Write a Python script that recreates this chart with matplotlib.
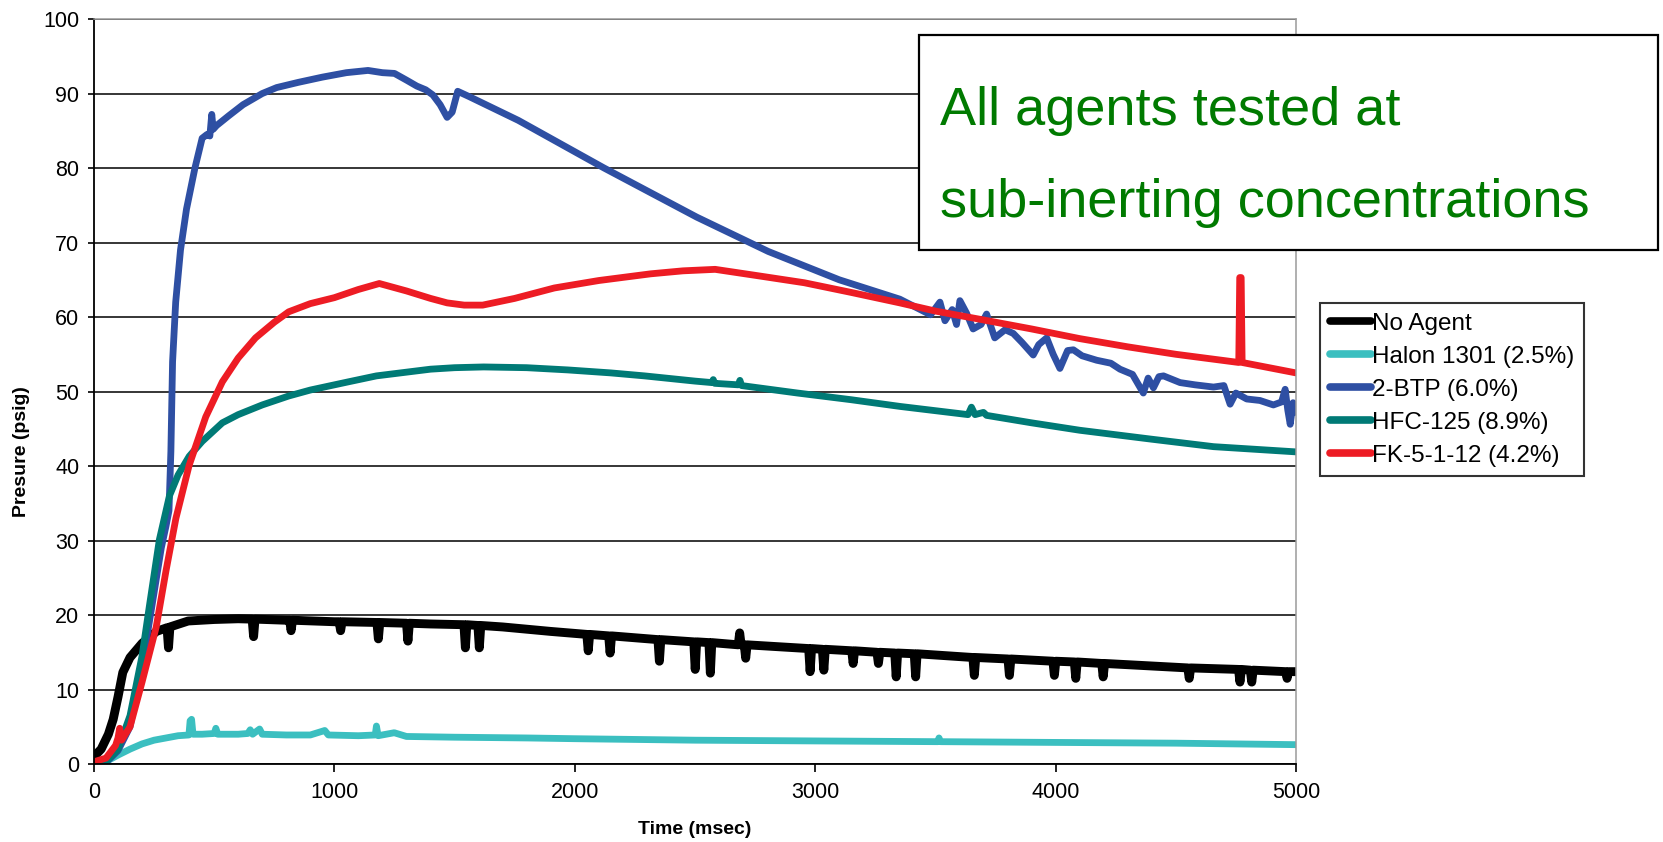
import matplotlib
matplotlib.use("Agg")
import matplotlib.pyplot as plt
from matplotlib.patches import Rectangle

plt.rcParams['font.family'] = ['Liberation Sans', 'DejaVu Sans']

# ---- data (time in msec, pressure in psig) ----
labels = ['No Agent', 'Halon 1301 (2.5%)', '2-BTP (6.0%)', 'HFC-125 (8.9%)', 'FK-5-1-12 (4.2%)']
colors = ['#000000', '#3bbfc0', '#2e4fa3', '#007a76', '#ed1c24']

noagent_t = [0, 30, 60, 80, 100, 120, 150, 200, 260, 304, 310, 316, 392, 500, 600,
             658, 664, 670, 800, 814, 820, 826, 1000, 1020, 1026, 1032, 1177, 1183, 1189,
             1300, 1306, 1312, 1400, 1539, 1545, 1551, 1597, 1603, 1609, 1700, 1900,
             2050, 2056, 2062, 2141, 2147, 2153, 2346, 2352, 2358, 2495, 2501, 2507,
             2558, 2564, 2570, 2680, 2686, 2692, 2705, 2711, 2717, 2973, 2979, 2985,
             3030, 3036, 3042, 3152, 3158, 3164, 3257, 3263, 3269, 3331, 3337, 3343,
             3412, 3418, 3424, 3656, 3662, 3668, 3802, 3808, 3814, 3989, 3995, 4001,
             4078, 4084, 4090, 4192, 4198, 4204, 4550, 4556, 4562, 4761, 4767, 4773,
             4810, 4816, 4822, 4957, 4963, 4969, 5000]
noagent_p = [1.0, 2.0, 4.0, 6.0, 9.0, 12.3, 14.3, 16.2, 17.8, 18.3, 15.6, 18.4, 19.2, 19.4, 19.5,
             19.45, 17.1, 19.45, 19.3, 19.3, 17.9, 19.3, 19.1, 19.1, 17.9, 19.1, 19.0, 16.8, 19.0,
             18.9, 16.5, 18.9, 18.8, 18.7, 15.6, 18.7, 18.6, 15.6, 18.6, 18.4, 17.8,
             17.4, 15.2, 17.4, 17.2, 14.9, 17.2, 16.7, 13.8, 16.7, 16.4, 12.7, 16.4,
             16.3, 12.2, 16.3, 16.0, 17.6, 16.0, 16.0, 14.2, 16.0, 15.5, 12.4, 15.5,
             15.4, 12.6, 15.4, 15.2, 13.5, 15.2, 15.0, 13.5, 15.0, 14.9, 11.7, 14.9,
             14.8, 11.7, 14.8, 14.3, 11.9, 14.3, 14.1, 11.9, 14.1, 13.8, 11.9, 13.8,
             13.7, 11.5, 13.7, 13.5, 11.7, 13.5, 12.9, 11.5, 12.9, 12.7, 11.0, 12.7,
             12.6, 11.0, 12.6, 12.4, 11.5, 12.4, 12.4]

halon_t = [0, 30, 60, 100, 150, 200, 250, 300, 350, 395, 400, 406, 412, 450, 500, 507, 515,
           600, 640, 650, 660, 689, 700, 800, 900, 960, 975, 1100, 1170, 1175, 1182, 1249,
           1300, 1500, 1800, 2000, 2500, 3000, 3510, 3515, 3522, 4000, 4500, 5000]
halon_p = [0.0, 0.1, 0.5, 1.2, 2.0, 2.7, 3.2, 3.5, 3.8, 3.9, 5.8, 6.0, 4.0, 4.0, 4.1, 4.8, 4.0,
           4.0, 4.1, 4.6, 4.0, 4.7, 4.0, 3.9, 3.9, 4.5, 3.9, 3.8, 3.9, 5.1, 3.8, 4.2,
           3.7, 3.6, 3.5, 3.4, 3.2, 3.1, 3.0, 3.5, 3.0, 2.9, 2.8, 2.6]

btp_t = [0, 50, 100, 150, 200, 250, 280, 300, 312, 320, 327, 340, 360, 385, 420, 450, 470,
         482, 490, 496, 510, 560, 620, 700, 760, 850, 950, 1050, 1140, 1200, 1250, 1300,
         1343, 1380, 1410, 1440, 1469, 1490, 1513, 1560, 1765, 2122, 2508, 2805, 3100,
         3352, 3480, 3519, 3540, 3570, 3588, 3602, 3630, 3657, 3690, 3713, 3747, 3790,
         3824, 3860, 3907, 3930, 3963, 3990, 4018, 4050, 4074, 4110, 4171, 4230, 4268,
         4320, 4365, 4385, 4407, 4430, 4449, 4518, 4580, 4657, 4700, 4726, 4750, 4795,
         4850, 4906, 4940, 4955, 4966, 4976, 4988, 5000]
btp_p = [0.0, 0.2, 1.8, 5.0, 13.0, 23.0, 29.0, 32.0, 34.0, 42.0, 54.0, 62.0, 69.0, 74.5, 80.0,
         84.0, 84.5, 84.3, 87.2, 85.2, 85.7, 87.0, 88.5, 90.0, 90.8, 91.5, 92.2, 92.8, 93.1,
         92.8, 92.7, 91.8, 91.0, 90.5, 89.8, 88.5, 86.8, 87.5, 90.3, 89.6, 86.4, 80.0, 73.4,
         68.8, 65.0, 62.4, 60.3, 62.0, 59.5, 61.0, 59.0, 62.2, 60.5, 58.4, 59.0, 60.4, 57.2,
         58.3, 57.8, 56.6, 54.9, 56.3, 57.2, 55.0, 53.1, 55.5, 55.6, 54.8, 54.2, 53.8, 53.0,
         52.3, 49.8, 51.8, 50.5, 52.0, 52.1, 51.2, 50.9, 50.6, 50.8, 48.3, 49.8, 49.0,
         48.8, 48.2, 48.6, 50.3, 47.5, 45.6, 48.5, 47.2]

hfc_t = [0, 50, 100, 150, 200, 231, 272, 314, 350, 396, 450, 534, 600, 700, 810, 900, 1058,
         1175, 1300, 1400, 1500, 1621, 1800, 1971, 2150, 2290, 2500, 2570, 2576, 2582, 2680,
         2687, 2694, 2926, 3150, 3353, 3636, 3650, 3665, 3700, 3713, 3900, 4101, 4400, 4657,
         5000]
hfc_p = [0.0, 0.3, 2.0, 6.5, 14.5, 21.3, 30.1, 36.0, 38.8, 41.3, 43.3, 45.8, 46.9, 48.2, 49.4,
         50.2, 51.3, 52.1, 52.6, 53.0, 53.2, 53.3, 53.2, 52.9, 52.5, 52.1, 51.4, 51.2, 51.6,
         51.1, 50.9, 51.5, 50.8, 49.8, 48.9, 48.0, 46.9, 47.9, 46.9, 47.2, 46.8, 45.8, 44.8,
         43.6, 42.6, 41.9]

fk_t = [0, 50, 90, 100, 107, 115, 150, 200, 259, 300, 341, 396, 465, 534, 600, 672, 750, 810,
        900, 1000, 1100, 1187, 1300, 1400, 1469, 1540, 1617, 1750, 1915, 2100, 2316, 2450,
        2584, 2750, 2955, 3150, 3352, 3500, 3685, 3900, 4101, 4300, 4500, 4762, 4766, 4772,
        4776, 5000]
fk_p = [0.3, 0.8, 2.5, 3.5, 4.8, 3.2, 5.0, 11.0, 18.4, 26.0, 33.0, 40.1, 46.6, 51.3, 54.5, 57.2,
        59.3, 60.7, 61.8, 62.6, 63.7, 64.5, 63.5, 62.5, 61.9, 61.6, 61.6, 62.5, 63.9, 64.9,
        65.8, 66.2, 66.4, 65.6, 64.6, 63.3, 61.9, 60.8, 59.7, 58.4, 57.1, 56.0, 55.0, 53.9,
        65.3, 65.3, 53.9, 52.5]

series_t = [noagent_t, halon_t, btp_t, hfc_t, fk_t]
series_p = [noagent_p, halon_p, btp_p, hfc_p, fk_p]
widths = [6.4, 4.9, 4.9, 4.9, 4.9]

yticks = list(range(0, 101, 10))
xticks = [0, 1000, 2000, 3000, 4000, 5000]

fig = plt.figure(figsize=(16.63, 8.42), dpi=100)
ax = fig.add_axes([0.0565, 0.0926, 0.7228, 0.8848])

for t, p, c, lab, w in zip(series_t, series_p, colors, labels, widths):
    ax.plot(t, p, color=c, lw=w, label=lab, solid_capstyle='round', solid_joinstyle='round')

ax.set_xlim(0, 5000)
ax.set_ylim(0, 100)
ax.set_xticks(xticks)
ax.set_yticks(yticks)
ax.yaxis.grid(True, color='black', lw=1.1)
ax.set_axisbelow(True)

for side in ['left', 'bottom']:
    ax.spines[side].set_color('black')
    ax.spines[side].set_linewidth(1.3)
for side in ['top', 'right']:
    ax.spines[side].set_color('#9a9a9a')
    ax.spines[side].set_linewidth(1.1)

ax.tick_params(axis='y', direction='out', length=4.5, width=1.2, pad=6, labelsize=15.5)
ax.tick_params(axis='x', direction='out', length=6, width=1.2, pad=7, labelsize=15.5)

ax.set_xlabel('Time (msec)', fontsize=14, fontweight='bold')
ax.set_ylabel('Presure (psig)', fontsize=14, fontweight='bold')
ax.xaxis.set_label_coords(0.5, -0.076)
ax.yaxis.set_label_coords(-0.053, 0.42)

leg = ax.legend(loc='upper left', bbox_to_anchor=(0.7937, 0.640), bbox_transform=fig.transFigure,
                fontsize=17.5, frameon=True, fancybox=False, handlelength=1.7, handletextpad=0.05,
                labelspacing=0.45, borderpad=0.4, borderaxespad=0)
leg.get_frame().set_edgecolor('black')
leg.get_frame().set_linewidth(1.5)
for h in leg.get_lines():
    h.set_linewidth(5.5)

# annotation box
fig.patches.append(Rectangle((0.5529, 0.7031), 0.4441, 0.2558, transform=fig.transFigure,
                             facecolor='white', edgecolor='black', lw=1.6, zorder=5))
fig.text(0.5652, 0.8515, 'All agents tested at', color='#007a00', fontsize=39,
         va='baseline', ha='left', zorder=6)
fig.text(0.5652, 0.7423, 'sub-inerting concentrations', color='#007a00', fontsize=39,
         va='baseline', ha='left', zorder=6)

fig.savefig('out.png', dpi=100)
